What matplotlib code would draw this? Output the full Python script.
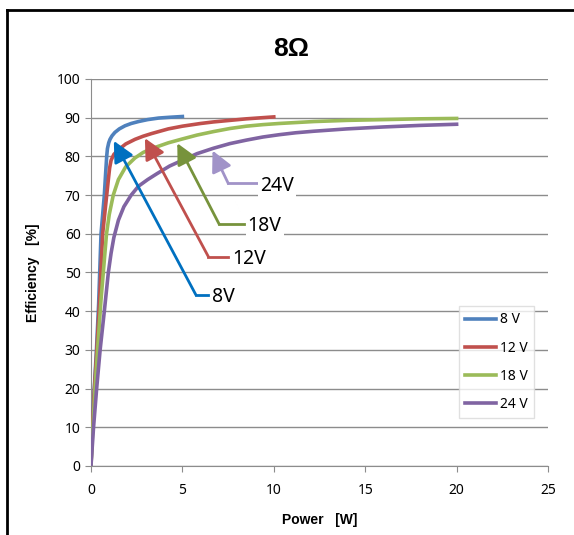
import matplotlib
matplotlib.use("Agg")
import matplotlib.pyplot as plt
from matplotlib.lines import Line2D

plt.rcParams['font.family'] = ['Noto Sans', 'DejaVu Sans']
BOLD_FONT = ['Liberation Sans', 'DejaVu Sans']

# values
p_8v = [0, 0.07, 0.18, 0.3, 0.42, 0.55, 0.73, 0.8, 0.86, 0.9, 0.97, 1.04, 1.15, 1.31, 1.55,
        1.86, 2.2, 2.6, 3.1, 3.7, 4.3, 5.0]
eff_8v = [0, 10, 20, 30, 42, 60, 70, 75.5, 80, 82, 83.5, 84.4, 85.3, 86.2, 87.1,
          87.9, 88.5, 89.0, 89.5, 89.9, 90.1, 90.3]

p_12v = [0, 0.08, 0.19, 0.32, 0.46, 0.64, 0.86, 0.95, 1.02, 1.1, 1.25, 1.5, 1.9, 2.41, 2.85,
         3.32, 4.23, 5.0, 6.0, 6.7, 7.6, 8.5, 10.0]
eff_12v = [0, 10, 20, 30, 42, 60, 70, 74, 77, 79, 80.5, 81.7, 83.2, 84.4, 85.2,
           85.9, 87.1, 87.8, 88.5, 88.9, 89.3, 89.7, 90.2]

p_18v = [0, 0.1, 0.22, 0.36, 0.55, 0.85, 1.0, 1.22, 1.5, 1.9, 2.41, 2.85, 3.32, 4.23, 5.0,
         5.8, 6.7, 7.6, 8.5, 9.4, 10.3, 12.2, 14.0, 16.0, 18.0, 20.0]
eff_18v = [0, 10, 20, 30, 43, 60, 65, 70, 74, 77.3, 79.6, 81.0, 82.0, 83.5, 84.5,
           85.5, 86.4, 87.2, 87.8, 88.2, 88.5, 89.0, 89.3, 89.5, 89.7, 89.8]

p_24v = [0, 0.14, 0.31, 0.5, 0.73, 0.95, 1.1, 1.25, 1.5, 1.8, 2.2, 2.6, 3.1, 3.6, 4.3,
         5.0, 5.8, 6.7, 7.6, 8.5, 9.4, 10.3, 11.2, 12.2, 14.0, 16.0, 18.0, 20.0]
eff_24v = [0, 10, 20, 30, 40, 50, 55, 59, 63.5, 67, 70, 72.3, 74, 75.5, 77.5,
           79.0, 80.7, 82.1, 83.3, 84.2, 85.0, 85.6, 86.1, 86.5, 87.1, 87.6, 88.0, 88.3]

series_labels = ['8 V', '12 V', '18 V', '24 V']
note_labels = ['8V', '12V', '18V', '24V']
line_colors = ['#4F81BD', '#C0504D', '#9BBB59', '#8064A2']
arrow_colors = ['#0070C0', '#C0504D', '#77933C', '#A193C8']

# arrow tip, elbow point, end of horizontal leg (data coords)
arrow_tips = [(1.25, 84.0), (2.95, 84.7), (4.72, 83.4), (6.65, 81.5)]
arrow_bends = [(5.74, 44.2), (6.42, 54.1), (7.01, 62.5), (7.51, 73.0)]
arrow_ends = [6.42, 7.51, 8.37, 9.06]

fig = plt.figure(figsize=(5.74, 5.35), dpi=100)
ax = fig.add_axes([0.1585, 0.129, 0.7962, 0.7234])

xs = [p_8v, p_12v, p_18v, p_24v]
ys = [eff_8v, eff_12v, eff_18v, eff_24v]
for x, y, c, lab in zip(xs, ys, line_colors, series_labels):
    ax.plot(x, y, color=c, lw=2.6, label=lab, solid_joinstyle='round', zorder=3)

# arrows with elbow leaders
for tip, bend, xend, c, txt in zip(arrow_tips, arrow_bends, arrow_ends, arrow_colors, note_labels):
    ax.plot([bend[0], xend], [bend[1], bend[1]], color=c, lw=2, zorder=4)
    ax.annotate('', xy=tip, xytext=bend,
                arrowprops=dict(arrowstyle='-|>,head_length=0.9,head_width=0.45',
                                color=c, lw=2, mutation_scale=14, shrinkA=0, shrinkB=0),
                zorder=4)
    ax.text(xend + 0.2, bend[1] - 0.6, txt, fontsize=14, va='center', ha='left',
            bbox=dict(facecolor='white', edgecolor='none', pad=1.5), zorder=5)

ax.set_xlim(0, 25)
ax.set_ylim(0, 100)
ax.set_xticks(range(0, 26, 5))
ax.set_yticks(range(0, 101, 10))
ax.yaxis.grid(True, color='#8C8C8C', lw=1)
ax.set_axisbelow(True)
for s in ['top', 'right']:
    ax.spines[s].set_visible(False)
for s in ['left', 'bottom']:
    ax.spines[s].set_color('#8C8C8C')
ax.tick_params(axis='both', colors='#8C8C8C', labelcolor='black', labelsize=10, length=4)
ax.tick_params(axis='x', pad=8)

ax.set_xlabel('Power   [W]', fontsize=10, fontweight='bold', family=BOLD_FONT, labelpad=11)
ax.set_ylabel('Efficiency   [%]', fontsize=10, fontweight='bold', family=BOLD_FONT, labelpad=12)

fig.text(291 / 574, 1 - 49 / 535, '8Ω', fontsize=19, fontweight='bold', family=BOLD_FONT,
         ha='center', va='center')

ax.legend(loc='upper left', bbox_to_anchor=(0.805, 0.413), borderaxespad=0,
          fontsize=10, frameon=True, fancybox=False, edgecolor='#D9D9D9',
          handlelength=2.2, handletextpad=0.3, labelspacing=0.95, borderpad=0.45)

# outer frame of the chart area
fig.add_artist(Line2D([7 / 574, 7 / 574], [0, 1 - 10 / 535], color='black', lw=2))
fig.add_artist(Line2D([7 / 574, 1], [1 - 10 / 535, 1 - 10 / 535], color='black', lw=2))

fig.savefig('out.png', dpi=100)
